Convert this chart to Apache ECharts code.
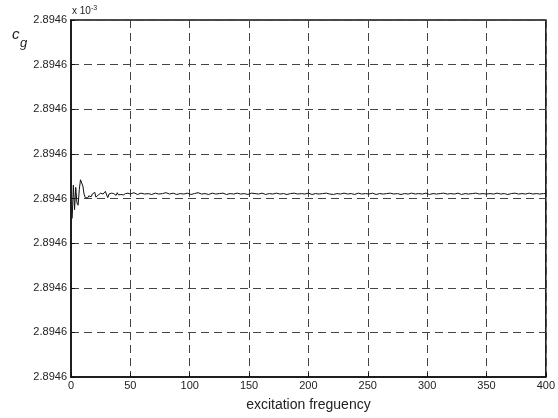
<!DOCTYPE html>
<html>
<head>
<meta charset="utf-8">
<script src="https://cdn.jsdelivr.net/npm/echarts@6/dist/echarts.min.js"></script>
<style>
  html, body { margin: 0; padding: 0; background: #fff; }
  #chart { width: 558px; height: 418px; }
</style>
</head>
<body>
<div id="chart"></div>
<script>
// frequency samples
var freqs = [1,2,3,4,5,6,7,8,9,10,11,12,13,14,15,16,17,18,19,20,
  21,22,23,24,25,26,27,28,29,30,31,32,33,34,35,36,37,38,39,40,
  41,42,43,44,45,46,47,48,49,50,
  53,56,59,62,65,68,71,74,77,80,83,86,89,92,95,98,101,104,107,110,
  113,116,119,122,125,128,131,134,137,140,143,146,149,152,155,158,161,164,167,170,
  173,176,179,182,185,188,191,194,197,200,203,206,209,212,215,218,221,224,227,230,
  233,236,239,242,245,248,251,254,257,260,263,266,269,272,275,278,281,284,287,290,
  293,296,299,302,305,308,311,314,317,320,323,326,329,332,335,338,341,344,347,350,
  353,356,359,362,365,368,371,374,377,380,383,386,389,392,395,398,400];
// c_g in grid units (each unit = one labelled step of the y axis)
var cg = [3.55,4.30,3.75,4.25,3.90,3.85,4.20,4.42,4.38,4.28,4.10,4.02,4.03,4.01,4.06,4.03,4.04,4.10,4.08,4.14,
  4.03,3.99,4.08,4.05,4.12,4.08,4.10,4.06,4.16,4.08,4.02,4.10,4.07,4.12,4.08,4.11,4.09,4.07,4.13,4.08,
  4.10,4.09,4.12,4.08,4.10,4.11,4.08,4.12,4.09,4.10,
  4.13,4.09,4.12,4.10,4.11,4.09,4.12,4.10,4.11,4.13,4.10,4.12,4.09,4.11,4.10,4.12,4.09,4.11,4.13,4.10,
  4.11,4.09,4.12,4.10,4.11,4.12,4.09,4.11,4.10,4.12,4.10,4.11,4.09,4.12,4.11,4.10,4.12,4.09,4.11,4.10,
  4.12,4.10,4.11,4.09,4.11,4.12,4.10,4.11,4.10,4.12,4.09,4.11,4.10,4.11,4.12,4.10,4.09,4.11,4.10,4.12,
  4.10,4.11,4.09,4.12,4.10,4.11,4.10,4.12,4.09,4.11,4.10,4.11,4.12,4.10,4.11,4.09,4.11,4.10,4.12,4.10,
  4.11,4.10,4.12,4.09,4.11,4.10,4.11,4.12,4.10,4.11,4.10,4.12,4.09,4.11,4.10,4.11,4.12,4.10,4.11,4.10,
  4.11,4.10,4.12,4.10,4.11,4.09,4.11,4.12,4.10,4.11,4.10,4.12,4.10,4.11,4.10,4.11,4.11];
var yTickLabel = '2.8946';
var xTitle = 'excitation freguency';

var pts = freqs.map(function (f, i) { return [f, cg[i]]; });
var font = 'Liberation Sans, Arial, sans-serif';
var chart = echarts.init(document.getElementById('chart'), null, { renderer: 'canvas' });
chart.setOption({
  animation: false,
  backgroundColor: '#fff',
  grid: { left: 71, right: 12, top: 20, bottom: 41, show: true, borderColor: '#111', borderWidth: 1.5, backgroundColor: 'transparent' },
  xAxis: {
    type: 'value', min: 0, max: 400, interval: 50,
    axisLine: { show: true, lineStyle: { color: '#111', width: 1.5 } },
    axisTick: { show: true, inside: true, length: 4, lineStyle: { color: '#111' } },
    axisLabel: { color: '#222', fontFamily: font, fontSize: 11, margin: 3 },
    splitLine: { show: true, lineStyle: { color: '#444', type: [8, 5], width: 1 } },
    name: xTitle, nameLocation: 'middle', nameGap: 21,
    nameTextStyle: { color: '#222', fontFamily: font, fontSize: 14 }
  },
  yAxis: {
    type: 'value', min: 0, max: 8, interval: 1,
    axisLine: { show: true, lineStyle: { color: '#111', width: 1.5 } },
    axisTick: { show: true, inside: true, length: 4, lineStyle: { color: '#111' } },
    axisLabel: { color: '#222', fontFamily: font, fontSize: 11, margin: 4, formatter: function () { return yTickLabel; } },
    splitLine: { show: true, lineStyle: { color: '#444', type: [8, 5], width: 1 } }
  },
  graphic: [
    { type: 'text', left: 72, top: 5, style: { text: 'x 10{s|-3}', fill: '#222', font: '10px ' + font,
      rich: { s: { fontSize: 7, verticalAlign: 'top', padding: [0, 0, 6, 0], fill: '#222' } } } },
    { type: 'text', left: 12, top: 27, style: { text: 'c', fill: '#222', font: 'italic 15px ' + font } },
    { type: 'text', left: 20, top: 37, style: { text: 'g', fill: '#222', font: 'italic 13px ' + font } }
  ],
  series: [{
    type: 'line', data: pts, showSymbol: false, symbol: 'none',
    lineStyle: { color: '#111', width: 1 }
  }]
});
</script>
</body>
</html>
